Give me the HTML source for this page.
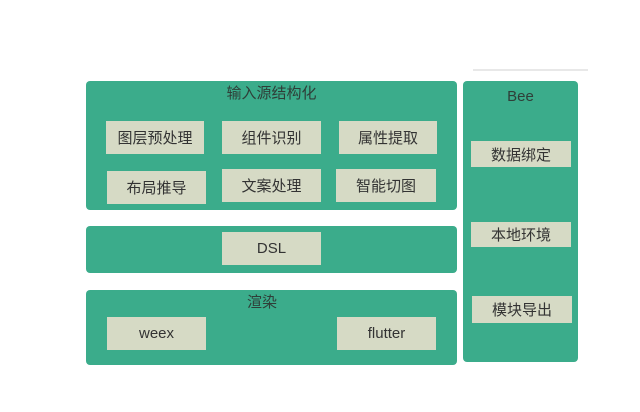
<html><head><style>
body{margin:0;width:640px;height:412px;background:#fff;position:relative;overflow:hidden;font-family:"Liberation Sans","Noto Sans CJK SC",sans-serif;}
.g{position:absolute;background:#3bac8b;border-radius:4px;}
.b{position:absolute;background:#d6dac5;color:#333;font-size:15px;display:flex;align-items:center;justify-content:center;}
.t{position:absolute;color:#2f3e38;font-size:15px;text-align:center;}
</style></head><body>
<div style="position:absolute;left:473px;top:69px;width:115px;height:2px;background:#e8e8e8"></div>
<div class="g" style="left:86px;top:81px;width:371px;height:129px"></div>
<div class="g" style="left:463px;top:81px;width:115px;height:281px"></div>
<div class="g" style="left:86px;top:226px;width:371px;height:47px"></div>
<div class="g" style="left:86px;top:290px;width:371px;height:75px"></div>
<div class="t" style="left:86px;width:371px;top:82px">输入源结构化</div>
<div class="t" style="left:463px;width:115px;top:88px">Bee</div>
<div class="t" style="left:222px;width:80px;top:291px">渲染</div>
<div class="b" style="left:106px;top:121px;width:98px;height:33px">图层预处理</div>
<div class="b" style="left:222px;top:121px;width:99px;height:33px">组件识别</div>
<div class="b" style="left:339px;top:121px;width:98px;height:33px">属性提取</div>
<div class="b" style="left:107px;top:171px;width:99px;height:33px">布局推导</div>
<div class="b" style="left:222px;top:169px;width:99px;height:33px">文案处理</div>
<div class="b" style="left:336px;top:169px;width:100px;height:33px">智能切图</div>
<div class="b" style="left:222px;top:232px;width:99px;height:33px">DSL</div>
<div class="b" style="left:107px;top:317px;width:99px;height:33px">weex</div>
<div class="b" style="left:337px;top:317px;width:99px;height:33px">flutter</div>
<div class="b" style="left:471px;top:141px;width:100px;height:26px">数据绑定</div>
<div class="b" style="left:471px;top:222px;width:100px;height:25px">本地环境</div>
<div class="b" style="left:472px;top:296px;width:100px;height:27px">模块导出</div>
</body></html>
